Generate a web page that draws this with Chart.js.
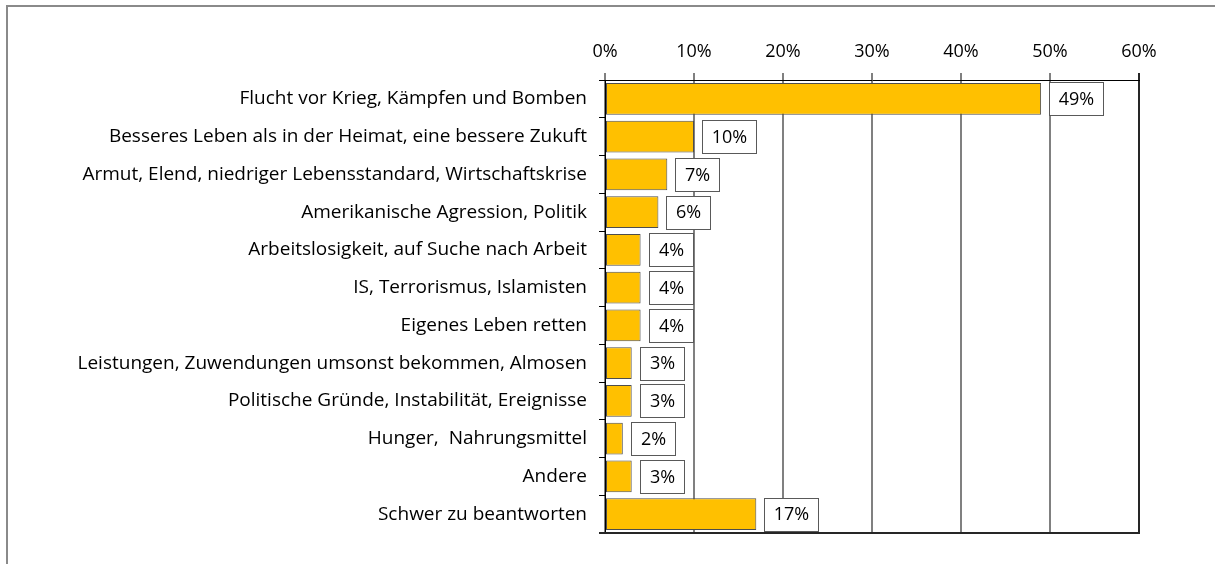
<!DOCTYPE html>
<html>
<head>
<meta charset="utf-8">
<script src="https://cdn.jsdelivr.net/npm/chart.js@4/dist/chart.umd.min.js"></script>
<style>
  body { margin: 0; background: #fff; }
  #wrap { position: relative; width: 1215px; height: 564px; overflow: hidden; }
  #frame { position: absolute; left: 6px; top: 5px; width: 1300px; height: 700px;
           border-top: 2px solid #8a8a8a; border-left: 2px solid #8a8a8a; }
  #chart { position: absolute; left: 0; top: 0; }
</style>
</head>
<body>
<div id="wrap">
  <div id="frame"></div>
  <canvas id="chart" width="1215" height="564"></canvas>
</div>
<script>
// Reasons named for coming (shares in %)
const categories = [
    'Flucht vor Krieg, Kämpfen und Bomben',
    'Besseres Leben als in der Heimat, eine bessere Zukuft',
    'Armut, Elend, niedriger Lebensstandard, Wirtschaftskrise',
    'Amerikanische Agression, Politik',
    'Arbeitslosigkeit, auf Suche nach Arbeit',
    'IS, Terrorismus, Islamisten',
    'Eigenes Leben retten',
    'Leistungen, Zuwendungen umsonst bekommen, Almosen',
    'Politische Gründe, Instabilität, Ereignisse',
    'Hunger,  Nahrungsmittel',
    'Andere',
    'Schwer zu beantworten'
];
const shares = [49, 10, 7, 6, 4, 4, 4, 3, 3, 2, 3, 17];
const tickLabels = ['0%', '10%', '20%', '30%', '40%', '50%', '60%'];

const FONT = '"Open Sans", "Noto Sans", sans-serif';

// white boxes with the value next to each bar
const valueBoxes = {
    id: 'valueBoxes',
    afterDatasetsDraw(chart) {
        const ctx = chart.ctx;
        const meta = chart.getDatasetMeta(0);
        ctx.save();
        ctx.font = '18px ' + FONT;
        ctx.textAlign = 'center';
        ctx.textBaseline = 'middle';
        meta.data.forEach((bar, i) => {
            const text = shares[i] + '%';
            const w = Math.round(ctx.measureText(text).width + 19);
            const h = Math.round(bar.height + 1);
            const x0 = Math.round(bar.x + 8);
            const y0 = Math.round(bar.y - h / 2);
            ctx.fillStyle = '#fff';
            ctx.fillRect(x0, y0, w, h);
            ctx.strokeStyle = '#595959';
            ctx.lineWidth = 1;
            ctx.strokeRect(x0 + 0.5, y0 + 0.5, w, h);
            ctx.fillStyle = '#000';
            ctx.fillText(text, x0 + w / 2 + 0.5, bar.y + 1);
        });
        ctx.restore();
    }
};

// bottom edge of the plot area
const plotEdge = {
    id: 'plotEdge',
    beforeDatasetsDraw(chart) {
        const a = chart.chartArea;
        const ctx = chart.ctx;
        ctx.save();
        ctx.strokeStyle = '#262626';
        ctx.lineWidth = 2;
        ctx.beginPath();
        ctx.moveTo(a.left - 6, a.bottom);
        ctx.lineTo(a.right + 1, a.bottom);
        ctx.stroke();
        ctx.restore();
    }
};

new Chart(document.getElementById('chart'), {
    type: 'bar',
    data: {
        labels: categories,
        datasets: [{
            data: shares,
            backgroundColor: '#FFC000',
            borderColor: '#4d4d4d',
            borderWidth: 1,
            borderSkipped: false,
            barPercentage: 0.84,
            categoryPercentage: 1
        }]
    },
    options: {
        indexAxis: 'y',
        responsive: false,
        animation: false,
        layout: { padding: { left: 0, right: 76, top: 0, bottom: 31 } },
        plugins: {
            legend: { display: false },
            tooltip: { enabled: false }
        },
        scales: {
            x: {
                position: 'top',
                min: 0,
                max: 60,
                ticks: {
                    stepSize: 10,
                    color: '#000',
                    padding: 10,
                    font: { family: FONT, size: 18 },
                    callback: (v, i) => tickLabels[i]
                },
                grid: {
                    color: ctx => (ctx.tick && ctx.tick.value === 60) ? '#262626' : '#808080',
                    lineWidth: 2,
                    tickLength: 7
                },
                border: { color: '#000', width: 1 },
                afterFit: scale => { scale.height = 80; }
            },
            y: {
                ticks: {
                    color: '#000',
                    padding: 12,
                    font: { family: FONT, size: 19 }
                },
                grid: {
                    drawOnChartArea: false,
                    tickLength: 6,
                    tickColor: '#000',
                    lineWidth: 1
                },
                border: { color: '#000', width: 1 },
                afterFit: scale => { scale.width = 605; }
            }
        }
    },
    plugins: [valueBoxes, plotEdge]
});
</script>
</body>
</html>
